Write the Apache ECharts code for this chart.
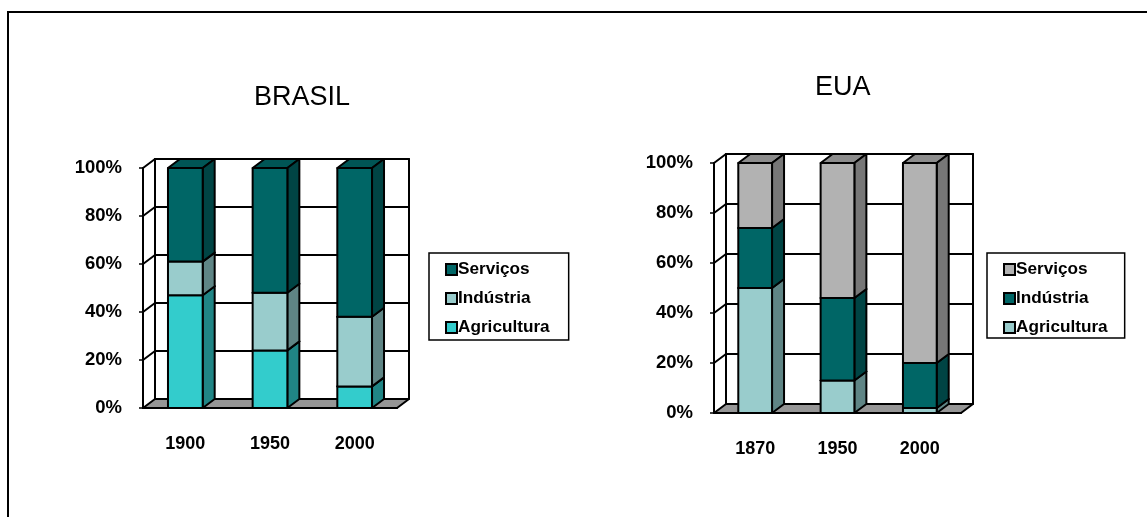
<!DOCTYPE html>
<html>
<head>
<meta charset="utf-8">
<style>html,body{margin:0;padding:0;background:#fff}#chart{width:1147px;height:517px}</style>
<script src="https://cdn.jsdelivr.net/npm/echarts@6/dist/echarts.min.js"></script>
</head>
<body>
<div id="chart"></div>
<script>
// Workforce share by sector: Brazil and the USA
const brasilYears = ['1900', '1950', '2000'];
const brasilAgricultura = [47, 24, 9];
const brasilIndustria = [14, 24, 29];
const brasilServicos = [39, 52, 62];

const euaYears = ['1870', '1950', '2000'];
const euaAgricultura = [50, 13, 2];
const euaIndustria = [24, 33, 18];
const euaServicos = [26, 54, 80];

const percentTicks = [0, 20, 40, 60, 80, 100];
const sectorNames = ['Serviços', 'Indústria', 'Agricultura'];

// Oblique projection used for the pseudo-3D boxes
const DEPTH_X = 12;
const DEPTH_Y = 9;
const BAR_FRACTION = 0.41;
const FONT = '"Liberation Sans", Arial, sans-serif';

const palette = {
  cyan: { front: '#33CCCC', side: '#208585', top: '#208585' },
  pale: { front: '#99CCCC', side: '#5F8585', top: '#7FAAAA' },
  dark: { front: '#006666', side: '#004444', top: '#005555' },
  grey: { front: '#B2B2B2', side: '#777777', top: '#8C8C8C' }
};

const outline = { stroke: '#000', lineWidth: 2, lineJoin: 'round', lineCap: 'round' };

function poly(points, fill) {
  return { type: 'polygon', shape: { points }, style: Object.assign({ fill }, outline) };
}

// Back wall, left wall and floor, one gridline per tick
function renderFrame(params, api) {
  const cs = params.coordSys;
  const y = api.coord([0, api.value(1)])[1];
  const left = cs.x, right = cs.x + cs.width, floor = cs.y + cs.height;
  const children = [];
  if (params.dataIndex === 0) {
    children.push(poly([[left, floor], [right, floor], [right + DEPTH_X, floor - DEPTH_Y], [left + DEPTH_X, floor - DEPTH_Y]], '#969696'));
    [left + DEPTH_X, right + DEPTH_X].forEach(function (x) {
      children.push({ type: 'line', shape: { x1: x, y1: floor - DEPTH_Y, x2: x, y2: cs.y - DEPTH_Y }, style: outline });
    });
  } else {
    children.push({ type: 'line', shape: { x1: left + DEPTH_X, y1: y - DEPTH_Y, x2: right + DEPTH_X, y2: y - DEPTH_Y }, style: outline });
    children.push({ type: 'line', shape: { x1: left, y1: y, x2: left + DEPTH_X, y2: y - DEPTH_Y }, style: outline });
  }
  return { type: 'group', children };
}

// One stacked segment: top face, side face, front face
function renderSegment(colors) {
  return function (params, api) {
    const cat = api.value(0);
    const low = api.coord([cat, api.value(1)]);
    const high = api.coord([cat, api.value(2)]);
    const w = api.size([1, 0])[0] * BAR_FRACTION;
    const x0 = low[0] - w / 2, x1 = low[0] + w / 2;
    return {
      type: 'group',
      children: [
        poly([[x0, high[1]], [x1, high[1]], [x1 + DEPTH_X, high[1] - DEPTH_Y], [x0 + DEPTH_X, high[1] - DEPTH_Y]], colors.top),
        poly([[x1, low[1]], [x1 + DEPTH_X, low[1] - DEPTH_Y], [x1 + DEPTH_X, high[1] - DEPTH_Y], [x1, high[1]]], colors.side),
        poly([[x0, low[1]], [x1, low[1]], [x1, high[1]], [x0, high[1]]], colors.front)
      ]
    };
  };
}

// Bottom and top of every segment, stacked in drawing order
function stackSeries(axisIndex, layers) {
  const floors = layers[0].values.map(function () { return 0; });
  return layers.map(function (layer) {
    const data = layer.values.map(function (v, i) {
      const row = [i, floors[i], floors[i] + v];
      floors[i] += v;
      return row;
    });
    return {
      type: 'custom',
      name: layer.name,
      xAxisIndex: axisIndex,
      yAxisIndex: axisIndex,
      renderItem: renderSegment(layer.colors),
      encode: { x: 0, y: [1, 2] },
      data,
      silent: true,
      z: 3
    };
  });
}

function frameSeries(axisIndex) {
  return {
    type: 'custom',
    xAxisIndex: axisIndex,
    yAxisIndex: axisIndex,
    renderItem: renderFrame,
    encode: { x: 0, y: 1 },
    data: percentTicks.map(function (t) { return [0, t]; }),
    silent: true,
    z: 1
  };
}

function xAxis(gridIndex, years) {
  return {
    type: 'category', gridIndex, data: years,
    axisLine: { onZero: false, lineStyle: { color: '#000', width: 2 } },
    axisTick: { length: 4, alignWithLabel: false, lineStyle: { color: '#000', width: 1.5 } },
    axisLabel: { color: '#000', fontFamily: FONT, fontWeight: 'bold', fontSize: 18, margin: 27 },
    z: 5
  };
}

function yAxis(gridIndex) {
  return {
    type: 'value', gridIndex, min: 0, max: 100, interval: 20,
    axisLine: { show: true, lineStyle: { color: '#000', width: 2 } },
    axisTick: { show: true, length: 4, lineStyle: { color: '#000', width: 1.5 } },
    axisLabel: { color: '#000', fontFamily: FONT, fontWeight: 'bold', fontSize: 18.5, margin: 21, formatter: '{value}%' },
    splitLine: { show: false },
    z: 5
  };
}

function legend(left, top, colors, padding) {
  return {
    orient: 'vertical', left, top,
    selectedMode: false,
    icon: 'rect',
    itemWidth: 11, itemHeight: 11, itemGap: 12,
    padding,
    borderColor: '#000', borderWidth: 1.5,
    textStyle: { color: '#000', fontFamily: FONT, fontWeight: 'bold', fontSize: 17.2, padding: [0, 0, 0, -4] },
    data: sectorNames.map(function (name, i) {
      return { name, itemStyle: { color: colors[i], borderColor: '#000', borderWidth: 2 } };
    })
  };
}

const chart = echarts.init(document.getElementById('chart'), null, { renderer: 'canvas' });
chart.setOption({
  animation: false,
  backgroundColor: '#fff',
  title: [
    { text: 'BRASIL', left: 249, top: 79, textStyle: { color: '#000', fontFamily: FONT, fontWeight: 'normal', fontSize: 27 } },
    { text: 'EUA', left: 810, top: 69, textStyle: { color: '#000', fontFamily: FONT, fontWeight: 'normal', fontSize: 27 } }
  ],
  grid: [
    { left: 143, top: 168, width: 254, height: 240 },
    { left: 714, top: 163, width: 247, height: 250 }
  ],
  xAxis: [xAxis(0, brasilYears), xAxis(1, euaYears)],
  yAxis: [yAxis(0), yAxis(1)],
  legend: [
    legend(429, 253, [palette.dark.front, palette.pale.front, palette.cyan.front], [8, 19, 4, 16]),
    legend(987, 253, [palette.grey.front, palette.dark.front, palette.pale.front], [8, 17, 2, 16])
  ],
  graphic: [{
    type: 'polyline',
    shape: { points: [[8, 517], [8, 12], [1147, 12]] },
    style: { fill: 'none', stroke: '#000', lineWidth: 2 }
  }],
  series: [
    frameSeries(0),
    frameSeries(1)
  ].concat(
    stackSeries(0, [
      { name: 'Agricultura', values: brasilAgricultura, colors: palette.cyan },
      { name: 'Indústria', values: brasilIndustria, colors: palette.pale },
      { name: 'Serviços', values: brasilServicos, colors: palette.dark }
    ]),
    stackSeries(1, [
      { name: 'Agricultura', values: euaAgricultura, colors: palette.pale },
      { name: 'Indústria', values: euaIndustria, colors: palette.dark },
      { name: 'Serviços', values: euaServicos, colors: palette.grey }
    ])
  )
});
</script>
</body>
</html>
